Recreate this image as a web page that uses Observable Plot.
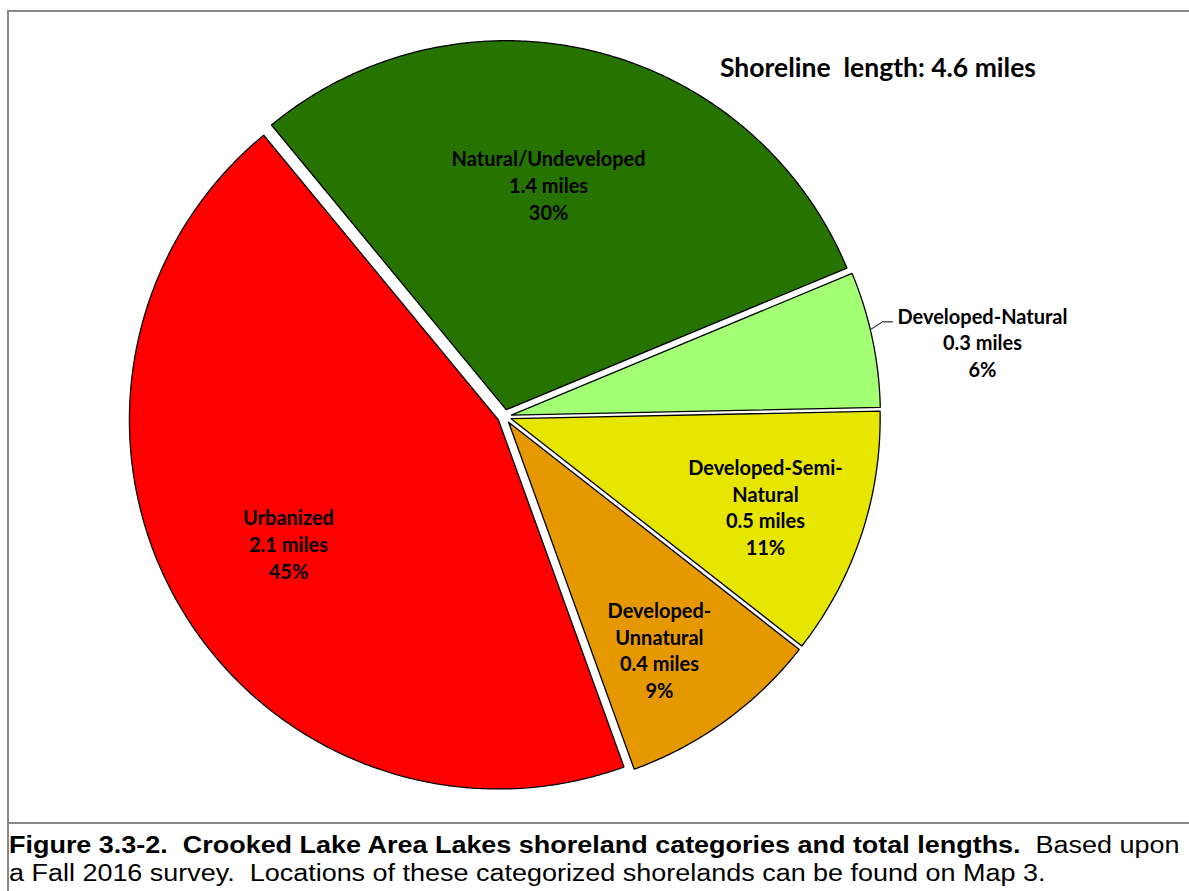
<!DOCTYPE html>
<html>
<head>
<meta charset="utf-8">
<script src="https://cdn.jsdelivr.net/npm/d3@7"></script>
<script src="https://cdn.jsdelivr.net/npm/@observablehq/plot@0.6"></script>
<style>
  html, body { margin: 0; padding: 0; background: #fff; }
  body { width: 1189px; height: 891px; position: relative; overflow: hidden; }
  #chart { position: absolute; left: 0; top: 0; }
  #frame { position: absolute; left: 7px; top: 10px; width: 1200px; height: 900px;
           border-left: 2px solid #878787; border-top: 2px solid #878787; box-sizing: border-box; pointer-events: none; }
  #title { position: absolute; left: 628px; top: 51px; width: 500px; text-align: center;
           font-family: Lato, "Open Sans", sans-serif; font-weight: bold; font-size: 26.5px; line-height: 32px; color: #000; white-space: nowrap; }
  #caption { position: absolute; left: 7px; top: 822px; width: 1200px; height: 80px; box-sizing: border-box;
             border-top: 2px solid #878787; padding: 7px 0 0 2px; }
  #capText { font-family: "Liberation Sans", Arial, sans-serif; font-size: 23.5px; line-height: 28px; color: #000;
             white-space: nowrap; transform: scaleX(1.147); transform-origin: 0 0; }
</style>
</head>
<body>
<div id="chart"></div>
<div id="frame"></div>
<div id="title"></div>
<div id="caption"><div id="capText"></div></div>
<script>
// ---- data ----
const categories = ["Natural/Undeveloped", "Developed-Natural", "Developed-Semi-Natural", "Developed-Unnatural", "Urbanized"];
const labelNames = ["Natural/Undeveloped", "Developed-Natural", "Developed-Semi-\nNatural", "Developed-\nUnnatural", "Urbanized"];
const miles = [1.4, 0.3, 0.5, 0.4, 2.1];
const percents = [30, 6, 11, 9, 45];
const totalMiles = 4.6;
const colors = ["#267300", "#A3FF73", "#E6E600", "#E69800", "#FF0000"];
const titleText = `Shoreline\u00a0 length: ${totalMiles} miles`;
const captionLine1Bold = "Figure 3.3-2.&nbsp; Crooked Lake Area Lakes shoreland categories and total lengths.";
const captionLine1Rest = "&nbsp; Based upon";
const captionLine2 = "a Fall 2016 survey.&nbsp; Locations of these categorized shorelands can be found on Map 3.";

// ---- layout / style ----
const W = 1189, H = 822, CX = 504, CY = 416, R = 369;
const startAngle = -39.5;          // degrees clockwise from 12 o'clock
const explode = 7 / R;             // radial offset of every slice
const labelPlacement = [           // radius fraction, angle nudge from bisector
  {r: 0.640, da: -3.2},
  {r: 1.311, da: 3.0, outside: true},
  {r: 0.748, da: 0.6},
  {r: 0.758, da: 2.3},
  {r: 0.679, da: -0.75}
];

const rad = d => d * Math.PI / 180;
const px = (a, r) => r * Math.sin(rad(a));
const py = (a, r) => -r * Math.cos(rad(a));

const total = d3.sum(percents);
let acc = startAngle;
const slices = categories.map((c, i) => {
  const span = percents[i] / total * 360;
  const a0 = acc, a1 = acc + span;
  acc = a1;
  return {name: c, i, a0, a1, mid: (a0 + a1) / 2};
});

const polyPts = slices.flatMap(s => {
  const ox = px(s.mid, explode), oy = py(s.mid, explode);
  const pts = [{name: s.name, x: ox, y: oy}];
  const n = Math.ceil((s.a1 - s.a0) / 0.5);
  for (let k = 0; k <= n; k++) {
    const a = s.a0 + (s.a1 - s.a0) * k / n;
    pts.push({name: s.name, x: ox + px(a, 1), y: oy + py(a, 1)});
  }
  pts.push({name: s.name, x: ox, y: oy});
  return pts;
});

const labels = slices.map((s, i) => {
  const lp = labelPlacement[i];
  return {
    name: s.name,
    x: px(s.mid + lp.da, lp.r),
    y: py(s.mid + lp.da, lp.r),
    text: `${labelNames[i]}\n${miles[i]} miles\n${percents[i]}%`
  };
});

// leader line for outside labels
const leaderPts = [];
slices.forEach((s, i) => {
  if (!labelPlacement[i].outside) return;
  const ox = px(s.mid, explode), oy = py(s.mid, explode);
  const p0 = {x: ox + px(s.mid - 1.5, 1), y: oy + py(s.mid - 1.5, 1)};
  const L = labels[i];
  const end = {x: L.x - 90 / R, y: L.y - 20 / R};
  const elbow = {x: end.x - 10 / R, y: end.y};
  leaderPts.push({g: s.name, ...p0}, {g: s.name, ...elbow}, {g: s.name, ...end});
});

const chart = Plot.plot({
  width: W,
  height: H,
  margin: 0,
  style: {background: "transparent"},
  x: {domain: [-CX / R, (W - CX) / R], range: [0, W], axis: null},
  y: {domain: [-CY / R, (H - CY) / R], range: [0, H], axis: null},
  color: {domain: categories, range: colors},
  marks: [
    Plot.line(polyPts, {x: "x", y: "y", z: "name", fill: "name", stroke: "#000", strokeWidth: 1.3, strokeLinejoin: "miter"}),
    Plot.line(leaderPts, {x: "x", y: "y", z: "g", stroke: "#000", strokeWidth: 1}),
    Plot.text(labels, {x: "x", y: "y", text: "text", fontSize: 20, fontWeight: "bold",
      fontFamily: "Lato, 'Open Sans', sans-serif", lineHeight: 1.335, lineAnchor: "middle",
      textAnchor: "middle", fill: "#000"})
  ]
});
document.getElementById("chart").appendChild(chart);
document.getElementById("title").textContent = titleText;
document.getElementById("capText").innerHTML = `<b>${captionLine1Bold}</b>${captionLine1Rest}<br>${captionLine2}`;
</script>
</body>
</html>
